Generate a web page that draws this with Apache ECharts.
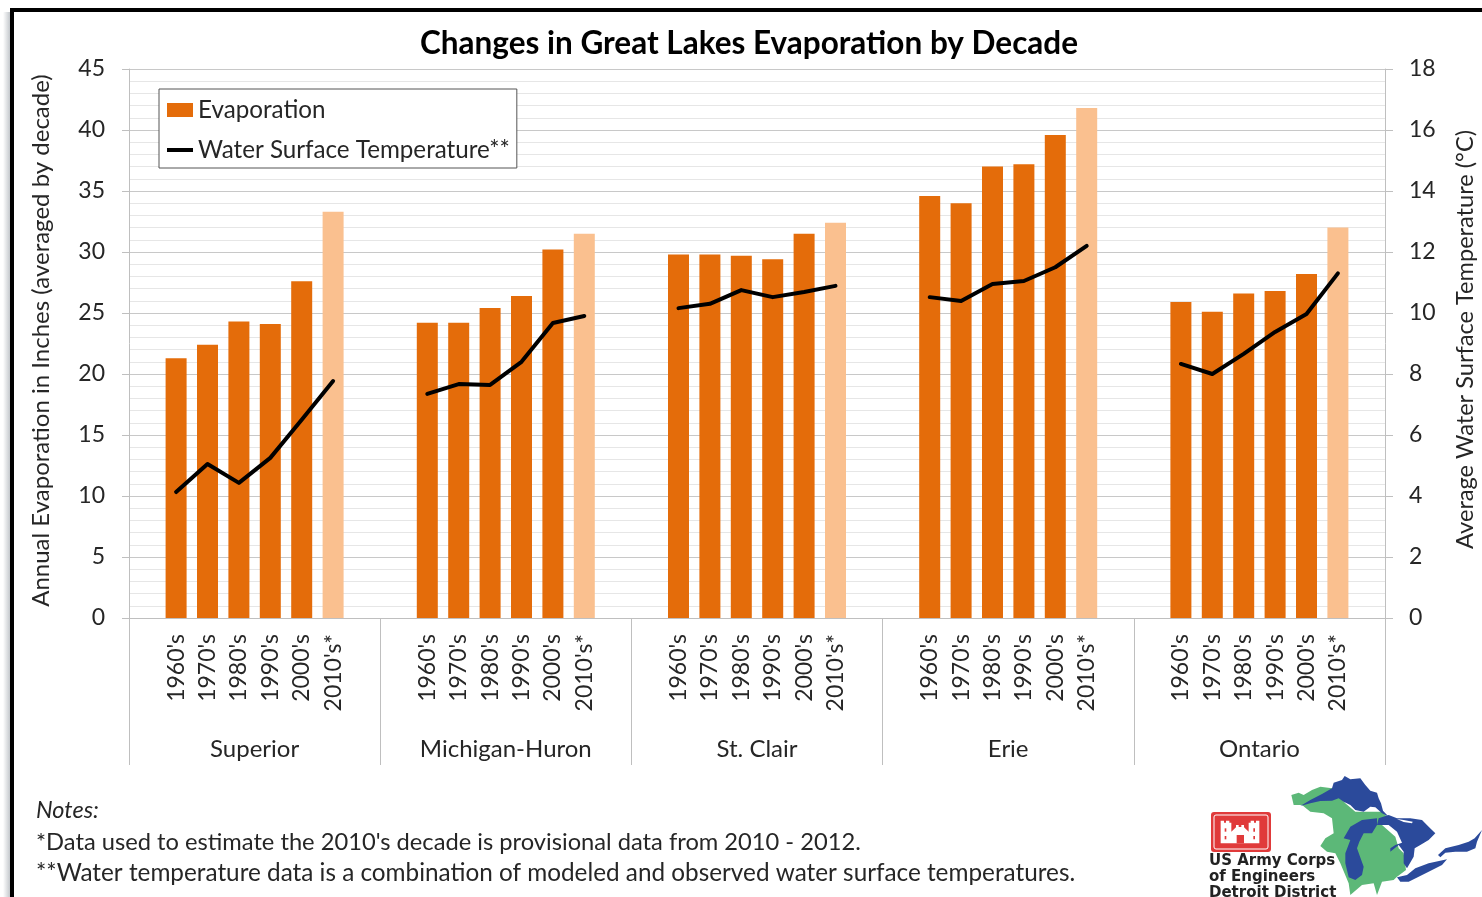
<!DOCTYPE html>
<html>
<head>
<meta charset="utf-8">
<title>Changes in Great Lakes Evaporation by Decade</title>
<script src="https://cdn.jsdelivr.net/npm/echarts@6/dist/echarts.min.js"></script>
<style>
html, body { margin: 0; padding: 0; background: #fff; }
#chart { width: 1482px; height: 897px; }
</style>
</head>
<body>
<div id="chart"></div>
<script>
var lakes = ['Superior', 'Michigan-Huron', 'St. Clair', 'Erie', 'Ontario'];
var decades = ["1960's", "1970's", "1980's", "1990's", "2000's", "2010's*"];

// Annual evaporation, inches
var evapSuperior = [21.3, 22.4, 24.3, 24.1, 27.6, 33.3];
var evapMichiganHuron = [24.2, 24.2, 25.4, 26.4, 30.2, 31.5];
var evapStClair = [29.8, 29.8, 29.7, 29.4, 31.5, 32.4];
var evapErie = [34.6, 34.0, 37.0, 37.2, 39.6, 41.8];
var evapOntario = [25.9, 25.1, 26.6, 26.8, 28.2, 32.0];

// Water surface temperature, deg C
var tempSuperior = [4.13, 5.05, 4.43, 5.25, 6.5, 7.77];
var tempMichiganHuron = [7.35, 7.67, 7.64, 8.4, 9.67, 9.9];
var tempStClair = [10.16, 10.3, 10.75, 10.52, 10.69, 10.89];
var tempErie = [10.52, 10.39, 10.95, 11.05, 11.5, 12.2];
var tempOntario = [8.33, 8.0, 8.66, 9.38, 9.97, 11.3];

var evapByLake = [evapSuperior, evapMichiganHuron, evapStClair, evapErie, evapOntario];
var tempByLake = [tempSuperior, tempMichiganHuron, tempStClair, tempErie, tempOntario];

var FONT = 'Lato';
var TEXT = '#262626';
var ORANGE = '#e46c0a';
var PALE = '#fac08f';
var BLUE = '#2b4a9b';
var RED = '#e03a3a';

// each lake takes 8 slots: blank, six decades, blank
var cats = [], evapData = [], tempData = [];
lakes.forEach(function (lake, i) {
    cats.push('');
    evapData.push(null);
    tempData.push(null);
    decades.forEach(function (d, j) {
        cats.push(d);
        // the 2010's bar is provisional, so it gets the pale colour
        evapData.push(j === 5 ? { value: evapByLake[i][j], itemStyle: { color: PALE } } : evapByLake[i][j]);
        tempData.push(tempByLake[i][j]);
    });
    cats.push('');
    evapData.push(null);
    tempData.push(null);
});

// logo shapes, in 3x coordinates from the corner of the map
var landShape = [[28,75],[50,68],[65,75],[90,60],[115,50],[150,55],[190,100],[220,125],[300,125],[320,145],[300,165],[340,200],[350,235],[365,250],[372,300],[345,320],[335,330],[300,335],[285,375],[275,340],[240,345],[205,375],[200,340],[175,280],[160,250],[135,245],[115,228],[130,205],[155,190],[150,145],[125,130],[85,125],[60,105],[35,105]];
var superiorShape = [[55,108],[85,90],[120,72],[150,55],[155,38],[180,30],[188,18],[205,28],[235,25],[250,45],[265,62],[285,68],[290,85],[297,100],[303,122],[320,140],[300,130],[280,112],[265,110],[245,125],[220,120],[205,105],[185,95],[170,85],[150,92],[115,93],[85,100]];
var michiganShape = [[185,205],[205,170],[240,150],[285,145],[285,165],[270,190],[245,190],[232,215],[225,235],[245,290],[240,315],[220,330],[200,322],[190,280],[190,250],[205,210]];
var huronShape = [[290,145],[320,135],[345,145],[385,145],[420,150],[440,170],[460,190],[440,210],[415,225],[398,235],[395,260],[375,295],[365,280],[365,245],[350,225],[325,245],[325,235],[340,225],[360,218],[345,185],[320,165],[285,165]];
var manitoulinShape = [[345,147],[365,150],[392,155],[390,160],[365,156]];
var erieShape = [[345,322],[375,315],[400,295],[440,280],[495,268],[480,285],[440,305],[410,320],[380,335],[355,335]];
var ontarioShape = [[468,255],[490,235],[530,225],[560,215],[578,205],[600,180],[585,215],[580,235],[555,245],[520,245],[490,248],[475,262]];
var castleShape = [[62,152],[72,152],[72,158],[78,158],[78,152],[88,152],[88,158],[94,158],[94,185],[108,172],[108,165],[116,165],[116,171],[124,171],[124,165],[132,165],[132,172],[146,185],[146,158],[152,158],[152,152],[162,152],[162,158],[168,158],[168,152],[178,152],[178,220],[62,220]];

function poly(points, color) {
    return { type: 'polygon', shape: { points: points }, style: { fill: color } };
}

function redRect(x, y, w, h) {
    return { type: 'rect', shape: { x: x, y: y, width: w, height: h }, style: { fill: RED } };
}

function note(text, y, size, italic) {
    return {
        type: 'text', left: 36, top: y,
        style: { text: text, fontFamily: FONT, fontSize: size, fontStyle: italic ? 'italic' : 'normal', fill: TEXT }
    };
}

function logoLine(text, y) {
    return {
        type: 'text', x: 1209, y: y,
        style: { text: text, fontFamily: 'DejaVu Sans', fontWeight: 'bold', fontSize: 15, fill: '#222' }
    };
}

var chart = echarts.init(document.getElementById('chart'));

var option = {
    backgroundColor: '#fff',
    animation: false,
    title: {
        text: 'Changes in Great Lakes Evaporation by Decade',
        left: 744,
        top: 23,
        textAlign: 'center',
        textStyle: { fontFamily: FONT, fontSize: 31.5, fontWeight: 'bold', color: '#000' }
    },
    legend: {
        orient: 'vertical',
        left: 159,
        top: 89,
        padding: [9, 7, 6, 8],
        itemGap: 16,
        itemWidth: 26,
        itemHeight: 14,
        backgroundColor: '#fff',
        borderColor: '#555',
        borderWidth: 1,
        borderRadius: 0,
        textStyle: { fontFamily: FONT, fontSize: 24.2, color: TEXT },
        data: [
            { name: 'Evaporation', icon: 'rect' },
            // corner points keep the thin bar from being stretched to the full key height
            { name: 'Water Surface Temperature**', icon: 'path://M0 0L0 0M0 5H26V9H0ZM26 14L26 14' }
        ]
    },
    grid: { left: 129, right: 97, top: 69, bottom: 279, outerBoundsMode: 'none' },
    xAxis: [
        {
            type: 'category',
            data: cats,
            axisLine: { show: true, lineStyle: { color: '#bfbfbf', width: 1 } },
            axisTick: { show: false },
            axisLabel: {
                interval: 0, rotate: 90, margin: 16,
                fontFamily: FONT, fontSize: 23, color: TEXT
            }
        },
        {
            type: 'category',
            position: 'bottom',
            offset: 0,
            data: lakes,
            axisLine: { show: false },
            axisTick: { show: true, inside: false, length: 147, lineStyle: { color: '#bfbfbf', width: 1 } },
            axisLabel: { interval: 0, margin: 119, fontFamily: FONT, fontSize: 24, color: TEXT }
        }
    ],
    yAxis: [
        {
            type: 'value',
            min: 0,
            max: 45,
            interval: 5,
            name: 'Annual Evaporation in Inches (averaged by decade)',
            nameLocation: 'middle',
            nameGap: 76,
            nameTextStyle: { fontFamily: FONT, fontSize: 24, color: TEXT, padding: [0, 0, 0, 6] },
            axisLine: { show: true, lineStyle: { color: '#bfbfbf' } },
            axisTick: { show: true, length: 7, lineStyle: { color: '#bfbfbf' } },
            axisLabel: { margin: 24, fontFamily: FONT, fontSize: 23, color: TEXT },
            splitLine: { show: true, lineStyle: { color: '#c8c8c8', width: 1 } },
            minorTick: { show: false, splitNumber: 5 },
            minorSplitLine: { show: true, lineStyle: { color: '#e6e6e6', width: 1 } }
        },
        {
            type: 'value',
            min: 0,
            max: 18,
            interval: 2,
            position: 'right',
            name: 'Average Water Surface Temperature (°C)',
            nameLocation: 'middle',
            nameGap: 68,
            nameTextStyle: { fontFamily: FONT, fontSize: 23.6, color: TEXT, padding: [0, 0, 0, 8] },
            axisLine: { show: true, lineStyle: { color: '#bfbfbf' } },
            axisTick: { show: true, length: 8, lineStyle: { color: '#bfbfbf' } },
            axisLabel: { margin: 24, fontFamily: FONT, fontSize: 23, color: TEXT },
            splitLine: { show: false }
        }
    ],
    series: [
        {
            name: 'Evaporation',
            type: 'bar',
            barWidth: 21,
            itemStyle: { color: ORANGE },
            data: evapData
        },
        {
            name: 'Water Surface Temperature**',
            type: 'line',
            yAxisIndex: 1,
            symbol: 'none',
            connectNulls: false,
            lineStyle: { color: '#000', width: 4, cap: 'round', join: 'round' },
            itemStyle: { color: '#000' },
            z: 5,
            data: tempData
        }
    ],
    graphic: [
        // slide frame, runs off the top right of the picture
        {
            type: 'rect', shape: { x: 3, y: 12, width: 7, height: 885 },
            style: { fill: new echarts.graphic.LinearGradient(0, 0, 1, 0, [{ offset: 0, color: '#fff' }, { offset: 1, color: '#c4c8cc' }]) }
        },
        { type: 'rect', shape: { x: 10, y: 8, width: 1480, height: 4 }, style: { fill: '#000' } },
        { type: 'rect', shape: { x: 10, y: 8, width: 4, height: 900 }, style: { fill: '#000' } },

        note('Notes:', 799, 23.5, true),
        note('*Data used to estimate the 2010\'s decade is provisional data from 2010 - 2012.', 830, 23.7, false),
        note('**Water temperature data is a combination of modeled and observed water surface temperatures.', 861, 24.3, false),

        // lakes map
        {
            type: 'group', x: 1282, y: 770, scaleX: 1 / 3, scaleY: 1 / 3,
            children: [
                poly(landShape, '#5cb878'),
                poly(superiorShape, BLUE),
                poly(michiganShape, BLUE),
                poly(huronShape, BLUE),
                poly(manitoulinShape, '#fff'),
                poly(erieShape, BLUE),
                poly(ontarioShape, BLUE)
            ]
        },
        // castle
        { type: 'rect', shape: { x: 1211, y: 812, width: 60, height: 40, r: 3 }, style: { fill: RED } },
        { type: 'rect', shape: { x: 1214, y: 815, width: 54, height: 34, r: 2 }, style: { fill: 'none', stroke: '#fff', lineWidth: 1 } },
        {
            type: 'group', x: 1200, y: 770, scaleX: 1 / 3, scaleY: 1 / 3,
            children: [
                poly(castleShape, '#fff'),
                redRect(110, 195, 22, 25),
                redRect(74, 175, 5, 10),
                redRect(74, 198, 5, 10),
                redRect(160, 175, 5, 10),
                redRect(160, 198, 5, 10)
            ]
        },
        logoLine('US Army Corps', 854),
        logoLine('of Engineers', 870),
        logoLine('Detroit District', 886)
    ]
};

chart.setOption(option);
</script>
</body>
</html>
